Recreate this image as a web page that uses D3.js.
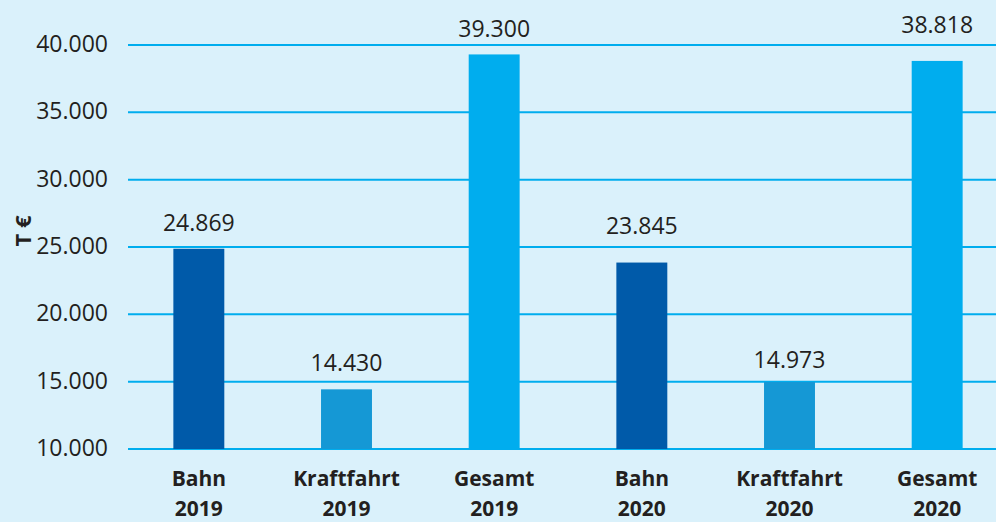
<!DOCTYPE html>
<html><head><meta charset="utf-8">
<script src="https://cdn.jsdelivr.net/npm/d3@7"></script>
<style>body{margin:0;background:#daf1fb;}svg{display:block;}</style>
</head><body>
<script>
const categories = [["Bahn","2019"],["Kraftfahrt","2019"],["Gesamt","2019"],["Bahn","2020"],["Kraftfahrt","2020"],["Gesamt","2020"]];
const values = [24869, 14430, 39300, 23845, 14973, 38818];
const valueLabels = ["24.869","14.430","39.300","23.845","14.973","38.818"];
const colors = ["#005aa9","#1598d5","#00adee","#005aa9","#1598d5","#00adee"];
const yTicks = [10000,15000,20000,25000,30000,35000,40000];
const yTickLabels = ["10.000","15.000","20.000","25.000","30.000","35.000","40.000"];
const yTitle = "T €";

// layout: gap (px) between bar top and its value label baseline
const labelGap = [17.5, 18, 17.6, 29, 14.4, 27.7];

const W=996,H=522;
const svg=d3.select("body").append("svg").attr("width",W).attr("height",H);
svg.append("rect").attr("width",W).attr("height",H).attr("fill","#daf1fb");
const font="'Open Sans', sans-serif";
const x=d3.scaleBand().domain(d3.range(categories.length)).range([125,1011]).paddingInner(0.655).paddingOuter(0.3275);
const y=d3.scaleLinear().domain([10000,40000]).range([449,45]);

const axis=d3.axisLeft(y).tickValues(yTicks).tickFormat((d,i)=>yTickLabels[i]).tickSize(0).tickPadding(20);
const ag=svg.append("g").attr("transform","translate(128,0)").call(axis);
ag.select(".domain").remove();
ag.selectAll("text").attr("font-family",font).attr("font-size",23).attr("fill","#231f20").attr("dy","0.28em");
svg.append("g").selectAll("line").data(yTicks).join("line")
 .attr("x1",128).attr("x2",W).attr("y1",d=>y(d)).attr("y2",d=>y(d))
 .attr("stroke","#00adee").attr("stroke-width",2);

svg.append("g").selectAll("rect").data(values).join("rect")
 .attr("x",(d,i)=>x(i)).attr("width",x.bandwidth())
 .attr("y",d=>y(d)).attr("height",d=>y(10000)-y(d)).attr("fill",(d,i)=>colors[i]);

svg.append("g").selectAll("text").data(values).join("text")
 .attr("x",(d,i)=>x(i)+x.bandwidth()/2).attr("y",(d,i)=>y(d)-labelGap[i])
 .attr("text-anchor","middle").attr("font-family",font).attr("font-size",23).attr("fill","#231f20")
 .text((d,i)=>valueLabels[i]);

const cg=svg.append("g").selectAll("text").data(categories).join("text")
 .attr("text-anchor","middle").attr("font-family",font).attr("font-size",21).attr("font-weight","bold").attr("fill","#231f20");
cg.each(function(d,i){
  const t=d3.select(this);
  const cx=x(i)+x.bandwidth()/2;
  t.append("tspan").attr("x",cx).attr("y",486).text(d[0]);
  t.append("tspan").attr("x",cx).attr("y",516).text(d[1]);
});

svg.append("text").attr("transform","translate(31,231) rotate(-90)").attr("text-anchor","middle")
 .attr("font-family",font).attr("font-size",22).attr("font-weight","bold").attr("fill","#231f20").text(yTitle);
</script>
</body></html>
